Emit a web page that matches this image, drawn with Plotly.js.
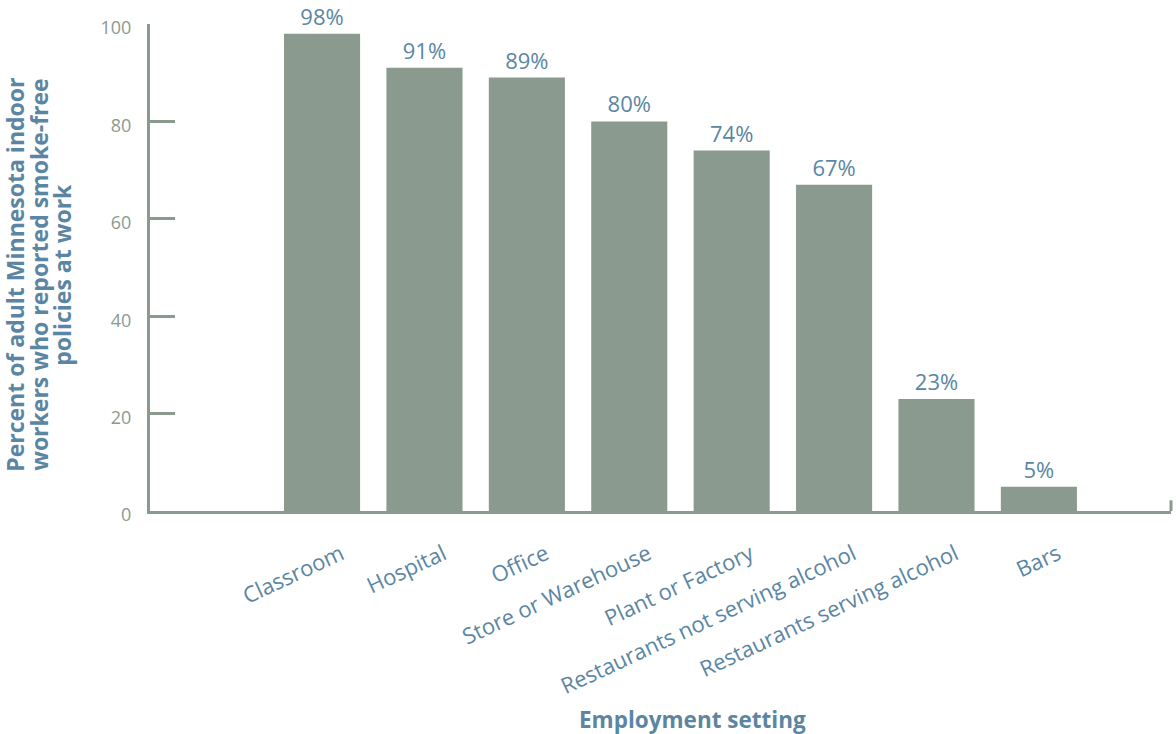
<!DOCTYPE html>
<html>
<head>
<meta charset="utf-8">
<script src="https://cdn.plot.ly/plotly-3.0.1.min.js"></script>
<style>html,body{margin:0;padding:0;background:#fff;}#chart{width:1176px;height:734px;}</style>
</head>
<body>
<div id="chart"></div>
<script>
const categories = ["Classroom", "Hospital", "Office", "Store or Warehouse", "Plant or Factory", "Restaurants not serving alcohol", "Restaurants serving alcohol", "Bars"];
const values = [98, 91, 89, 80, 74, 67, 23, 5];
const labels = values.map(v => v + "%");
const yTicks = [0, 20, 40, 60, 80, 100];
const yTitleLines = ["Percent of adult Minnesota indoor", "workers who reported smoke-free", "policies at work"];
const xTitle = "Employment setting";

const barColor = "#8a9a8f";
const blue = "#5b86a3";
const fontFam = "'Open Sans', 'Noto Sans', sans-serif";

const trace = {
  type: "bar",
  x: categories,
  y: values,
  text: labels,
  textposition: "outside",
  cliponaxis: false,
  textfont: {family: fontFam, size: 22, color: blue},
  marker: {color: barColor},
  hoverinfo: "none"
};

const titleX = [15, 39, 62];
const annotations = [
  {text: "<b>" + xTitle + "</b>", xref: "paper", yref: "paper", x: 0.531, y: 0, yshift: -208, showarrow: false, xanchor: "center", yanchor: "middle",
   font: {family: fontFam, size: 22.5, color: blue}}
];
yTitleLines.forEach((t, i) => {
  annotations.push({text: "<b>" + t + "</b>", xref: "paper", yref: "paper", x: 0, xshift: titleX[i] - 150,
    y: 0.485, textangle: -90, showarrow: false, xanchor: "center", yanchor: "middle",
    font: {family: fontFam, size: 23, color: blue}});
});

const layout = {
  width: 1176, height: 734,
  margin: {l: 150, r: 5, t: 24, b: 223},
  paper_bgcolor: "#fff", plot_bgcolor: "#fff",
  bargap: 0.257,
  showlegend: false,
  xaxis: {
    type: "category",
    range: [-1.68, 8.29],
    showline: true, linecolor: barColor, linewidth: 3,
    ticks: "", showgrid: false, zeroline: false,
    tickangle: -25,
    ticklabelstandoff: 19,
    ticklabelshift: 19,
    tickfont: {family: fontFam, size: 22, color: blue},
    fixedrange: true
  },
  yaxis: {
    range: [0, 100],
    tickvals: yTicks,
    ticktext: yTicks.map(String),
    showline: true, linecolor: barColor, linewidth: 3,
    ticks: "inside", ticklen: 25, tickwidth: 3, tickcolor: barColor,
    showgrid: false, zeroline: false,
    ticklabelstandoff: 12,
    ticklabelshift: 4,
    tickfont: {family: fontFam, size: 18, color: barColor},
    fixedrange: true
  },
  shapes: [
    {type: "line", xref: "paper", yref: "y", x0: 1, x1: 1, y0: 0, y1: 2.2, line: {color: barColor, width: 3}}
  ],
  annotations: annotations
};

Plotly.newPlot("chart", [trace], layout, {displayModeBar: false, staticPlot: true});
</script>
</body>
</html>
